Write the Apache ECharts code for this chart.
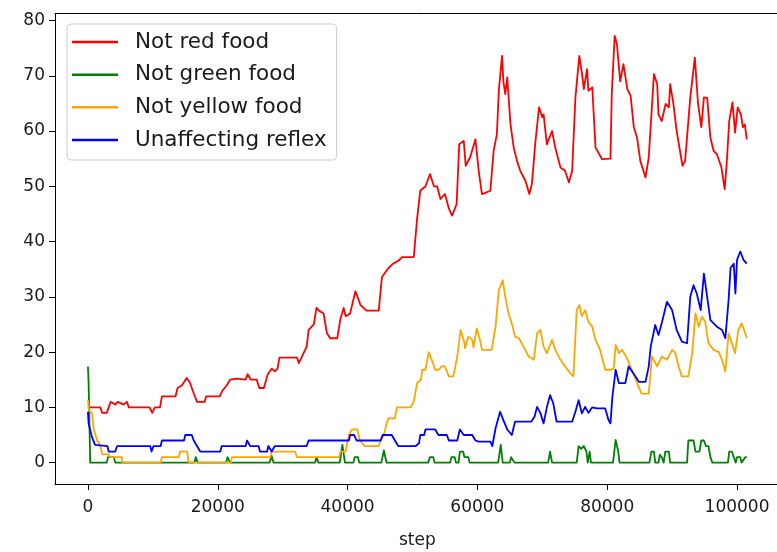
<!DOCTYPE html>
<html>
<head>
<meta charset="utf-8">
<script src="https://cdn.jsdelivr.net/npm/echarts@6/dist/echarts.min.js"></script>
<style>
  html, body { margin: 0; padding: 0; background: #ffffff; }
  #chart { width: 777px; height: 552px; }
</style>
</head>
<body>
<div id="chart"></div>
<script>
// Rolling counts per training step for each behaviour
const redSteps = [0,1900,2200,2900,3200,3500,4200,4600,5500,6000,6300,9500,9900,10300,11100,11400,13500,13800,14500,15200,15700,16300,16800,18000,18200,20300,20700,21400,21900,23000,24300,24600,25100,26000,26400,27100,27700,28300,28800,29200,29500,32200,32500,32900,33700,34000,34800,35200,35600,36300,36800,37300,38400,38900,39400,39700,40400,41200,42000,42900,44800,45300,46300,47000,47900,48400,50200,50700,51200,52000,52700,53300,53800,54300,55000,55600,56100,56800,57200,57900,58200,58900,59700,60200,60700,62000,62500,63000,63300,63800,64000,64300,64600,65100,65600,66100,66600,67400,68000,68400,68900,69500,70000,70200,70700,71500,72000,72800,73500,74100,74600,75100,75700,76100,76400,76900,77100,77700,78200,78500,79200,80500,80700,81150,81500,82000,82500,83100,83600,84100,84600,85100,85900,86400,87200,87700,87900,88400,89000,89500,89700,90200,90700,91300,91600,92000,92800,93500,94000,94500,94900,95400,95900,96400,96900,97600,98100,98400,98800,99300,99700,100100,100600,100900,101200,101500];
const redValues = [10,10,9,9,10,11,10.5,11,10.5,11,10,10,9,10,10,12,12,13.5,14,15.3,14.5,12.5,11,11,12,12,13,14,15,15.2,15,16,15,15,13.5,13.5,16,17,16.5,17,19,19,18,19,21,24,25,28,27.5,27,23.5,22.5,22.5,26,28,26.5,27,31,28.5,27.5,27.5,33.6,35.2,36,36.6,37.2,37.2,44,49.2,50,52.2,50,50,47.7,48.6,46,44.7,46.8,57.6,58.2,53.7,55.3,58.5,52.8,48.6,49.2,56.4,59.4,67.3,73.6,69,66.7,69.7,61.2,57,54.6,52.8,51,48.6,50.4,57.6,64.3,62.5,63,57.6,60,57,53.4,52.8,50.7,52.8,66,73.6,70.5,67.6,71.2,67.3,67.9,57,56.4,54.9,55,66.7,77.2,75.7,69,72.1,67.6,66.4,60.7,58.8,54.6,51.6,55.2,70.3,68.5,63,61.8,64.9,64.3,68.5,64.9,60,55.8,53.7,54.6,66.1,73.3,64.9,60.7,66.1,66,58.8,56.4,55.8,53.4,49.5,54,61.8,65.2,59.7,64.3,63,60.7,61.2,58.5];

const greenSteps = [0,100,350,2900,3100,4000,4200,16400,16600,16900,21300,21500,21900,28000,28300,28600,35000,35200,35500,38800,39200,39600,40900,41100,41600,41800,45200,45600,46000,52400,52700,53200,53400,55800,56000,56500,56700,57100,57300,57800,58000,58600,58800,63200,63600,63900,65000,65200,65500,65700,70900,71200,71500,75300,75600,76000,76400,76800,77000,77300,77500,80900,81300,81700,81900,86500,86800,87200,87400,87900,88100,88400,88700,88950,89500,89700,92300,92500,93300,93600,94200,94500,94900,95200,95600,95900,96200,98600,98800,99200,99500,99800,100000,100500,100700,101000,101300,101500];
const greenValues = [17.4,14.4,0,0,1,1,0,0,1,0,0,1,0,0,1.2,0,0,1,0,0,3.2,0,0,1,1,0,0,2.2,0,0,1,1,0,0,1,1,0,0,2,2,1,1,0,0,3.2,0,0,1,1,0,0,2,0,0,3,2.5,3,2,0,2,0,0,4.1,2,0,0,2,2,0,0,1.4,1,0,2,2,0,0,4,4,2,2,4,4,3,3,1,0,0,2,2,1,0,1,1,0,0,1,1];

const yellowSteps = [0,150,600,900,1400,1900,2200,3200,3400,5200,5300,11200,11400,14000,14200,15300,15500,22000,22200,28100,28300,31900,32200,38700,38900,39700,40200,40700,41500,41900,42600,44800,45100,45600,46000,46300,47300,47600,49700,50200,50700,51300,51500,52000,52500,53000,53500,54000,54500,55000,55600,56300,56900,57400,57900,58100,58600,59200,59400,59900,60400,60700,62200,62800,63300,63900,64300,64800,65300,65800,66400,67100,67900,68700,69200,69700,70200,70700,71500,72000,72800,73500,74300,74800,75300,75700,76100,76600,77100,77700,78200,78900,79700,80500,81000,81300,81800,82300,83000,83800,84600,85300,86400,86900,87700,88400,89200,90000,90500,91000,91500,92500,93100,93600,94100,94600,95100,95600,96400,97200,97700,98200,98700,99200,99700,100200,100700,101100,101500];
const yellowValues = [11.3,9.5,9,6,4.1,3.2,1.5,1.5,1,1,0,0,1,1,2,2,0,0,1,1,2,2,1,1,2,2,5,6,6,4,3,3,4,5,7,8,8,10,10,11,14.4,15,16.8,16.8,20,18.5,16.8,16.8,17.4,17.4,15.6,15.6,19.2,24,22.2,20.7,22.8,22.2,20.8,24.3,22.2,20.4,20.4,24.6,31.2,33,30,27,25.2,22.8,22.5,21,19.2,18.6,23.4,24,21,19.8,22.2,20.4,18.6,17.4,16.2,15.6,27.6,28.5,26.5,27.6,25.5,24.6,22.2,20.4,16.8,16.8,17,21.3,19.8,20.4,19,16.8,14.4,12.5,12.5,19.2,17.4,19.2,18.6,20.4,19.8,17.4,15.6,15.6,19.8,27,24.6,26.4,25.5,21.6,20.4,20,18.6,16.5,23.4,21.6,19.8,24,25.2,24,22.5];

const reflexSteps = [0,100,600,1100,3000,3200,4200,4500,9600,9800,10100,11200,11400,14800,15000,16000,16300,16800,17300,20400,20600,24300,24500,25000,26300,26500,27600,27800,28300,28800,33700,34000,40200,40400,41000,41400,45100,45400,46800,47300,47800,50500,51000,51200,51800,52000,53500,54000,55300,55600,56900,57300,57900,58700,59200,59700,60200,62000,62300,62800,63500,64000,64600,65300,65800,68300,68800,69200,69700,70200,70700,71200,71700,72200,74600,75100,75600,76100,76600,77100,77700,78400,79700,80200,80500,80800,81300,81800,82800,83300,84000,84900,85900,86400,86700,87400,87900,88400,89200,90000,90700,91500,92300,92800,93300,93800,94400,94900,95400,95900,96900,97700,98200,98700,99000,99500,99750,100000,100500,101000,101500];
const reflexValues = [9.2,7.1,4.7,3.2,3,2,2,3,3,2,3,3,4,4,5,5,4,3,2,2,3,3,4,3,3,2,2,3,2,3,3,4,4,5,5,4,4,5,5,4,3,3,3.5,5,5,6,6,5,5,4,4,6,5,5,5,4,3.8,3.8,3,6.2,9.2,7.7,6,5,7.4,7.4,8.3,10.1,9,7.1,10,12.2,10.7,7.4,7.4,9.2,11.3,8.9,10.1,9,10,9.8,9.8,7.7,7.1,11.9,16.8,14.4,14.4,17.4,16.2,14.6,14.6,17.4,21,24.9,23.1,25.2,29.1,27.6,24,21.9,21.6,30,32.1,30.6,27.6,34.2,30,25.8,24.6,24,22.5,29.4,35.2,36,30.6,36.7,38.2,36.7,36];

const seriesNames = ['Not red food', 'Not green food', 'Not yellow food', 'Unaffecting reflex'];
const seriesColors = ['#ff0000', '#008000', '#ffa500', '#0000ff'];
const xTicks = [0, 20000, 40000, 60000, 80000, 100000];
const yTicks = [0, 10, 20, 30, 40, 50, 60, 70, 80];

function pairs(xs, ys) {
  return xs.map((x, i) => [x, ys[i]]);
}

const seriesData = [
  pairs(redSteps, redValues),
  pairs(greenSteps, greenValues),
  pairs(yellowSteps, yellowValues),
  pairs(reflexSteps, reflexValues)
];

const FONT = 'DejaVu Sans';
const X_MIN = -5075, X_MAX = 106575;
const chart = echarts.init(document.getElementById('chart'), null, { renderer: 'canvas' });

const spine = { show: true, onZero: false, lineStyle: { color: '#000000', width: 1 } };

chart.setOption({
  animation: false,
  backgroundColor: '#ffffff',
  grid: {
    left: 55, top: 13.5, width: 724.7, height: 470.5,
    show: false, containLabel: false, outerBoundsMode: 'none'
  },
  legend: {
    orient: 'vertical',
    left: 67, top: 24,
    data: seriesNames,
    icon: 'rect',
    itemWidth: 46, itemHeight: 2.5,
    itemGap: 10.67,
    padding: [7, 10, 9, 5],
    backgroundColor: 'rgba(255,255,255,0.8)',
    borderColor: '#cccccc', borderWidth: 1, borderRadius: 4,
    textStyle: { fontFamily: FONT, fontSize: 21.5, color: '#1a1a1a', lineHeight: 22, padding: [0, 0, 0, 12] }
  },
  xAxis: [{
    type: 'value',
    min: X_MIN, max: X_MAX,
    name: 'step', nameLocation: 'middle', nameGap: 48,
    nameTextStyle: { fontFamily: FONT, fontSize: 17, color: '#1a1a1a' },
    splitLine: { show: false },
    axisLine: spine,
    axisTick: { show: true, inside: false, length: 6, customValues: xTicks, lineStyle: { color: '#000000', width: 1 } },
    axisLabel: { customValues: xTicks, margin: 15, fontFamily: FONT, fontSize: 17, color: '#1a1a1a', formatter: v => String(v) }
  }, {
    // top spine only
    type: 'value', position: 'top',
    min: X_MIN, max: X_MAX,
    axisLine: spine, axisTick: { show: false }, axisLabel: { show: false }, splitLine: { show: false }
  }],
  yAxis: {
    type: 'value',
    min: -3.87, max: 81.27,
    splitLine: { show: false },
    axisLine: spine,
    axisTick: { show: true, inside: false, length: 6, customValues: yTicks, lineStyle: { color: '#000000', width: 1 } },
    axisLabel: { customValues: yTicks, margin: 10, fontFamily: FONT, fontSize: 17, color: '#1a1a1a', formatter: v => String(v) }
  },
  series: seriesNames.map((name, i) => ({
    name: name,
    type: 'line',
    data: seriesData[i],
    showSymbol: false,
    symbol: 'none',
    silent: true,
    color: seriesColors[i],
    lineStyle: { color: seriesColors[i], width: 1.8, join: 'round' }
  }))
});
</script>
</body>
</html>
